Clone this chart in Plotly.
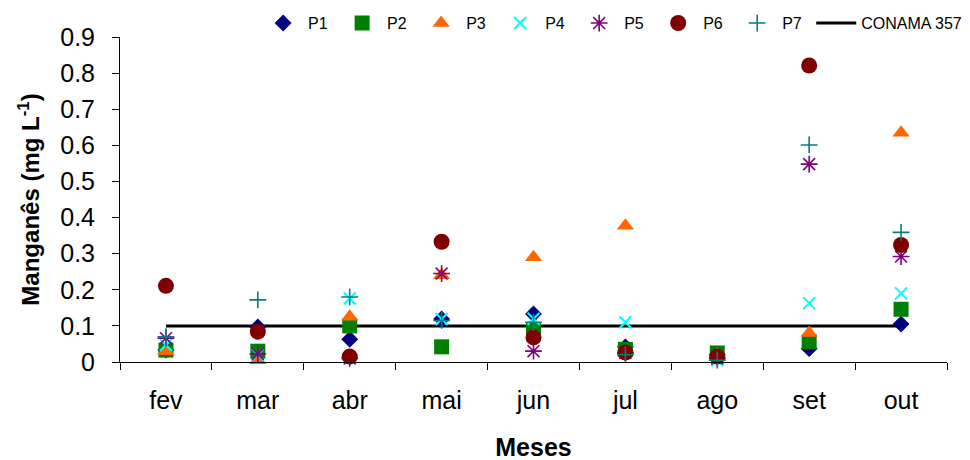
import plotly.graph_objects as go

months = ["fev", "mar", "abr", "mai", "jun", "jul", "ago", "set", "out"]
P1 = [0.033, 0.097, 0.063, 0.119, 0.133, 0.042, 0.02, 0.037, 0.105]
P2 = [0.033, 0.03, 0.10, 0.042, 0.089, 0.035, 0.025, 0.056, 0.146]
P3 = [0.03, 0.005, 0.125, 0.24, 0.29, 0.377, 0.02, 0.08, 0.635]
P4 = [0.047, 0.02, 0.176, 0.119, 0.12, 0.11, 0.005, 0.163, 0.19]
P5 = [0.066, 0.022, 0.01, 0.245, 0.03, 0.025, 0.01, 0.548, 0.292]
P6 = [0.211, 0.084, 0.015, 0.333, 0.068, 0.026, 0.015, 0.821, 0.324]
P7 = [0.07, 0.172, 0.18, 0.115, 0.11, 0.02, 0.005, 0.601, 0.359]
CONAMA = [0.1] * len(months)
legend_names = ["P1", "P2", "P3", "P4", "P5", "P6", "P7", "CONAMA 357"]

NB = "\u00a0"
series = [
    (P1, "diamond", "#000080", 13, 0),
    (P2, "square", "#008000", 15, 0),
    (P3, "triangle-up", "#FF6600", 15, 0),
    (P4, "x-thin-open", "#00FFFF", 12, 2),
    (P5, "asterisk-open", "#800080", 14, 1.6),
    (P6, "circle", "#800000", 16, 0),
    (P7, "cross-thin-open", "#008080", 12, 1.6),
]

FONT = "Arial, 'Liberation Sans', sans-serif"
fig = go.Figure()

fig.add_trace(go.Scatter(
    x=months, y=CONAMA, mode="lines", name=legend_names[7],
    line=dict(color="black", width=3), legendrank=8,
))

for i, (vals, sym, col, size, lw) in enumerate(series):
    fig.add_trace(go.Scatter(
        x=months, y=vals, mode="markers", name=legend_names[i] + NB,
        cliponaxis=False, legendrank=i + 1,
        marker=dict(symbol=sym, color=col, size=size,
                    line=dict(color=col, width=lw)),
    ))

# the page adds an 8px body margin, so the layout is offset by 8px here
fig.update_layout(
    width=970, height=460,
    margin=dict(l=112, r=31, t=29, b=106, autoexpand=False),
    paper_bgcolor="white", plot_bgcolor="white",
    font=dict(family=FONT, color="black"),
    showlegend=True,
    legend=dict(
        orientation="h", x=0.167, xanchor="left", y=1.095, yanchor="top",
        font=dict(size=16, family=FONT), itemwidth=40,
        bgcolor="rgba(0,0,0,0)", traceorder="normal",
    ),
    xaxis=dict(
        type="category", range=[-0.5, 8.5], showgrid=False, zeroline=False,
        showline=True, linecolor="black", linewidth=1, automargin=False,
        ticks="outside", ticklen=7, tickcolor="black", tickson="boundaries",
        tickfont=dict(size=25), ticklabelstandoff=16,
        title=dict(text="<b>Meses</b>", font=dict(size=25), standoff=25),
    ),
    yaxis=dict(
        range=[0, 0.9], dtick=0.1, tick0=0, showgrid=False, zeroline=False,
        showline=True, linecolor="black", linewidth=1, automargin=False,
        ticks="outside", ticklen=7, tickcolor="black",
        tickfont=dict(size=25), ticklabelstandoff=12,
        title=dict(text="<b>Manganês (mg L<sup>-1</sup>)</b>", font=dict(size=24), standoff=13),
    ),
)

fig.write_html("out.html")
